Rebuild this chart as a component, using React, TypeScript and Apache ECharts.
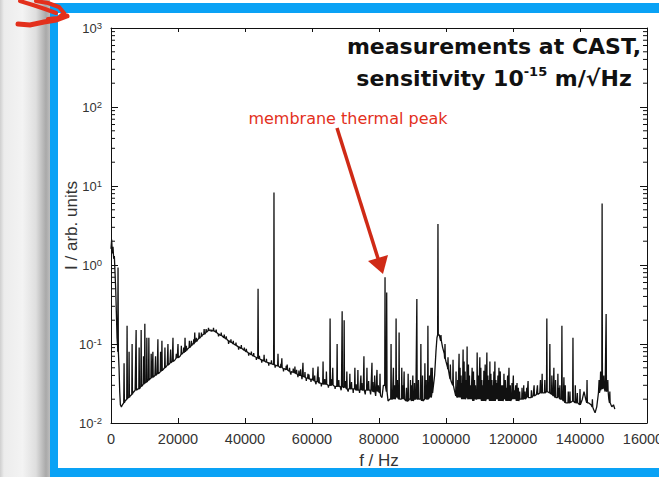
import React, { useEffect, useRef } from 'react';
import * as echarts from 'echarts';

// ---- data ----
const xMin = 0;
const xMax = 160000;
const xInterval = 20000;
const yMin = 0.01;
const yMax = 1000;

// smooth background of the spectrum [f (Hz), I]
const baseline: [number, number][] = [
  [0, 1.6], [200, 2.1], [400, 1.4], [600, 1.7], [800, 1.2], [1000, 1.3], [1200, 0.8], [1400, 0.5],
  [1600, 0.25], [1800, 0.12], [2000, 0.09], [2200, 0.075], [2400, 0.05], [2600, 0.025], [2800, 0.017],
  [3100, 0.016], [3400, 0.017], [4200, 0.019], [5000, 0.021], [5700, 0.022], [6500, 0.024], [7200, 0.026],
  [8000, 0.027], [8700, 0.028], [9400, 0.03], [10100, 0.032], [10900, 0.034], [11600, 0.036], [12300, 0.038],
  [13100, 0.04], [13800, 0.042], [14600, 0.044], [15300, 0.047], [16100, 0.05], [16800, 0.054], [17600, 0.057],
  [18300, 0.06], [19100, 0.063], [19800, 0.068], [20600, 0.07], [21300, 0.076], [22100, 0.08], [22800, 0.086],
  [23600, 0.09], [24300, 0.1], [25100, 0.105], [25800, 0.112], [26600, 0.12], [27300, 0.13], [28100, 0.135],
  [28800, 0.145], [29500, 0.15], [30200, 0.148], [31000, 0.145], [31700, 0.138], [32500, 0.13], [33200, 0.126],
  [34000, 0.12], [34700, 0.113], [35500, 0.107], [36200, 0.103], [37000, 0.098], [37700, 0.094], [38500, 0.09],
  [39200, 0.087], [40000, 0.082], [40700, 0.079], [41500, 0.075], [42200, 0.072], [43000, 0.069], [43900, 0.066],
  [44600, 0.064], [45300, 0.062], [46000, 0.06], [46700, 0.058], [47500, 0.057], [48600, 0.055], [49500, 0.053],
  [50300, 0.051], [51000, 0.05], [52000, 0.048], [53000, 0.046], [54000, 0.044], [55000, 0.043], [56400, 0.04],
  [57500, 0.039], [58500, 0.037], [59400, 0.036], [60500, 0.035], [61500, 0.033], [62400, 0.032], [63500, 0.031],
  [64500, 0.031], [65400, 0.03], [66500, 0.03], [67500, 0.029], [68400, 0.029], [69500, 0.028], [70500, 0.027],
  [71300, 0.027], [72300, 0.027], [73300, 0.026], [74300, 0.026], [75300, 0.026], [76300, 0.026], [77300, 0.026],
  [78500, 0.025], [79700, 0.025], [80500, 0.022], [80900, 0.021], [81300, 0.03], [82700, 0.019], [83200, 0.02],
  [84000, 0.02], [85000, 0.021], [86000, 0.02], [87000, 0.02], [88000, 0.019], [89000, 0.02], [90000, 0.019],
  [91000, 0.02], [92000, 0.02], [93000, 0.019], [94000, 0.02], [95000, 0.021], [96000, 0.024], [96600, 0.04],
  [97000, 0.08], [97300, 0.12], [98000, 0.13], [98500, 0.11], [99000, 0.09], [99500, 0.075], [100000, 0.06],
  [100500, 0.05], [101000, 0.04], [101500, 0.034], [102000, 0.03], [102500, 0.026], [103000, 0.022], [104000, 0.021],
  [105000, 0.02], [106000, 0.021], [107000, 0.02], [108000, 0.019], [109000, 0.02], [110000, 0.02], [111000, 0.019],
  [112000, 0.02], [113000, 0.019], [114000, 0.019], [115000, 0.02], [116000, 0.019], [117000, 0.02], [118000, 0.019],
  [119000, 0.02], [120000, 0.02], [121000, 0.019], [122000, 0.02], [123000, 0.02], [124000, 0.021], [125000, 0.021],
  [126000, 0.022], [127000, 0.023], [128000, 0.024], [129000, 0.024], [130000, 0.025], [131000, 0.024], [132000, 0.022],
  [133000, 0.021], [134000, 0.02], [135000, 0.019], [136000, 0.018], [137000, 0.018], [138000, 0.019], [139000, 0.018],
  [140000, 0.017], [140700, 0.02], [141200, 0.025], [141700, 0.02], [142500, 0.018], [143300, 0.017], [144000, 0.015],
  [144500, 0.0135], [145000, 0.016], [145500, 0.024], [146000, 0.026], [146300, 0.03], [147000, 0.028], [147500, 0.025],
  [148200, 0.026], [148600, 0.02], [149000, 0.018], [149500, 0.016], [150000, 0.017], [150400, 0.015],
];

// narrow resonance lines [f (Hz), base I, peak I]
const spikes: [number, number, number][] = [
  [2100, 0.08, 0.93], [3900, 0.018, 0.057], [4800, 0.02, 0.17], [5400, 0.021, 0.08], [6300, 0.023, 0.1],
  [7500, 0.026, 0.15], [8400, 0.027, 0.09], [9000, 0.029, 0.15], [9700, 0.031, 0.07], [10100, 0.032, 0.18],
  [10700, 0.033, 0.12], [11300, 0.035, 0.12], [12000, 0.037, 0.075], [12500, 0.038, 0.08], [13300, 0.04, 0.07],
  [14000, 0.042, 0.115], [14800, 0.045, 0.08], [15200, 0.046, 0.11], [16100, 0.05, 0.09], [17000, 0.054, 0.1],
  [17800, 0.058, 0.085], [18500, 0.06, 0.12], [20000, 0.067, 0.1], [21000, 0.074, 0.095], [22100, 0.08, 0.12],
  [23400, 0.09, 0.11], [25000, 0.105, 0.14], [26300, 0.118, 0.14], [27800, 0.133, 0.155], [30600, 0.146, 0.16],
  [33800, 0.12, 0.132], [36500, 0.1, 0.11], [39800, 0.083, 0.09], [43900, 0.066, 0.5], [45700, 0.061, 0.073],
  [48650, 0.055, 8.3], [49850, 0.053, 0.075], [51000, 0.05, 0.066], [52600, 0.047, 0.055], [54900, 0.043, 0.052],
  [56600, 0.04, 0.048], [57300, 0.039, 0.058], [58800, 0.037, 0.042], [60300, 0.035, 0.05], [61800, 0.033, 0.052],
  [63300, 0.031, 0.06], [64300, 0.031, 0.045], [65400, 0.03, 0.21], [66200, 0.03, 0.05], [67500, 0.029, 0.1],
  [69000, 0.029, 0.26], [69600, 0.028, 0.2], [70400, 0.027, 0.045], [71300, 0.027, 0.042], [72800, 0.027, 0.05],
  [73700, 0.026, 0.047], [74600, 0.026, 0.04], [75500, 0.026, 0.07], [76400, 0.026, 0.05], [77900, 0.026, 0.058],
  [78700, 0.025, 0.04], [79400, 0.025, 0.047], [80300, 0.024, 0.042], [81800, 0.03, 0.7], [82300, 0.025, 0.45],
  [83600, 0.02, 0.1], [84300, 0.02, 0.05], [85100, 0.021, 0.21], [86000, 0.02, 0.14], [86800, 0.02, 0.05],
  [87500, 0.02, 0.045], [88700, 0.019, 0.042], [89400, 0.02, 0.035], [90100, 0.019, 0.04], [91300, 0.02, 0.37],
  [92500, 0.02, 0.1], [93000, 0.019, 0.04], [93700, 0.02, 0.057], [94600, 0.02, 0.17], [95500, 0.021, 0.05],
  [97600, 0.13, 3.3], [98500, 0.11, 0.13], [99700, 0.065, 0.1], [100600, 0.048, 0.068], [101300, 0.036, 0.055],
  [102100, 0.03, 0.063], [103000, 0.022, 0.045], [103900, 0.021, 0.075], [104500, 0.021, 0.04], [105100, 0.02, 0.085],
  [105700, 0.02, 0.045], [106300, 0.021, 0.093], [107000, 0.02, 0.04], [107800, 0.02, 0.05], [108500, 0.02, 0.035],
  [109300, 0.02, 0.078], [110100, 0.02, 0.068], [110700, 0.019, 0.035], [111300, 0.019, 0.046], [112200, 0.02, 0.078],
  [112800, 0.02, 0.035], [113400, 0.019, 0.042], [114000, 0.019, 0.03], [114600, 0.019, 0.06], [115200, 0.02, 0.032],
  [115800, 0.019, 0.05], [116500, 0.019, 0.03], [117300, 0.02, 0.042], [118000, 0.019, 0.028], [118800, 0.019, 0.05],
  [119700, 0.02, 0.032], [120400, 0.02, 0.026], [121200, 0.019, 0.032], [122000, 0.02, 0.025], [122700, 0.02, 0.028],
  [123600, 0.02, 0.025], [124500, 0.021, 0.034], [125500, 0.021, 0.026], [127300, 0.023, 0.03], [128700, 0.024, 0.042],
  [129500, 0.024, 0.035], [130100, 0.025, 0.21], [131000, 0.024, 0.1], [131600, 0.023, 0.04], [132200, 0.022, 0.05],
  [133400, 0.021, 0.042], [134000, 0.02, 0.03], [134600, 0.02, 0.17], [135200, 0.019, 0.038], [136500, 0.018, 0.025],
  [137900, 0.019, 0.12], [138600, 0.018, 0.03], [140000, 0.017, 0.027], [142100, 0.018, 0.035], [145700, 0.024, 0.035],
  [146600, 0.027, 6.0], [147100, 0.028, 0.04], [147800, 0.025, 0.24], [148300, 0.025, 0.035],
];

// small wiggles of the noisy trace [f (Hz), base I, excursion I]
const wiggles: [number, number, number][] = [
  [19500, 0.066, 0.075], [21700, 0.078, 0.09], [22500, 0.083, 0.095], [24000, 0.095, 0.11], [24700, 0.1, 0.115],
  [25500, 0.108, 0.12], [27000, 0.125, 0.14], [28400, 0.14, 0.155], [29100, 0.148, 0.16], [29900, 0.15, 0.143],
  [31400, 0.14, 0.152], [32100, 0.134, 0.125], [32900, 0.128, 0.14], [34400, 0.116, 0.125], [35100, 0.11, 0.1],
  [35800, 0.105, 0.115], [37300, 0.096, 0.104], [38100, 0.092, 0.085], [38900, 0.088, 0.097], [40400, 0.08, 0.087],
  [41100, 0.077, 0.071], [41900, 0.073, 0.08], [42600, 0.07, 0.077], [43400, 0.068, 0.063], [44300, 0.065, 0.071],
  [45000, 0.063, 0.058], [46400, 0.059, 0.065], [47100, 0.058, 0.053], [47900, 0.056, 0.062], [49000, 0.054, 0.05],
  [50700, 0.05, 0.056], [51500, 0.049, 0.045], [52300, 0.047, 0.053], [53300, 0.045, 0.05], [53700, 0.045, 0.041],
  [54400, 0.044, 0.049], [55400, 0.042, 0.047], [55800, 0.041, 0.038], [56100, 0.04, 0.046], [57000, 0.039, 0.036],
  [57900, 0.038, 0.044], [58300, 0.037, 0.034], [59100, 0.036, 0.041], [59700, 0.036, 0.033], [60800, 0.034, 0.04],
  [61200, 0.034, 0.031], [62100, 0.032, 0.038], [62800, 0.032, 0.029], [63800, 0.031, 0.036], [64900, 0.03, 0.028],
  [65900, 0.03, 0.036], [66900, 0.029, 0.027], [68000, 0.029, 0.035], [68700, 0.029, 0.026], [70000, 0.028, 0.034],
  [70800, 0.027, 0.025], [71800, 0.027, 0.033], [72300, 0.027, 0.024], [73200, 0.026, 0.031], [74200, 0.026, 0.024],
  [74900, 0.026, 0.032], [75900, 0.026, 0.023], [76900, 0.026, 0.034], [77500, 0.026, 0.023], [78200, 0.025, 0.033],
  [79000, 0.025, 0.022], [79800, 0.025, 0.03], [84700, 0.02, 0.03], [85500, 0.021, 0.035], [87200, 0.02, 0.03],
  [88200, 0.019, 0.028], [89800, 0.019, 0.03], [90600, 0.02, 0.032], [91800, 0.02, 0.035], [92800, 0.019, 0.03],
  [94100, 0.02, 0.035], [95100, 0.021, 0.04], [95900, 0.024, 0.05], [103500, 0.021, 0.035], [104200, 0.021, 0.05],
  [104800, 0.02, 0.032], [105400, 0.02, 0.06], [106100, 0.021, 0.035], [106700, 0.02, 0.055], [107400, 0.02, 0.03],
  [108200, 0.019, 0.045], [108800, 0.02, 0.03], [109700, 0.02, 0.04], [110400, 0.02, 0.05], [111050, 0.019, 0.03],
  [111700, 0.019, 0.055], [112500, 0.02, 0.04], [113100, 0.019, 0.06], [113700, 0.019, 0.035], [114300, 0.019, 0.045],
  [114900, 0.02, 0.035], [115500, 0.02, 0.04], [116200, 0.019, 0.045], [116900, 0.019, 0.03], [117700, 0.02, 0.035],
  [118400, 0.019, 0.04], [119200, 0.019, 0.03], [120100, 0.02, 0.04], [120800, 0.02, 0.03], [121600, 0.019, 0.028],
  [123200, 0.02, 0.03], [124100, 0.021, 0.028], [126300, 0.022, 0.03], [128200, 0.024, 0.035], [132700, 0.021, 0.035],
  [133700, 0.021, 0.028], [135600, 0.018, 0.03], [137000, 0.018, 0.025], [139200, 0.018, 0.024], [143700, 0.016, 0.02],
  [146150, 0.026, 0.045], [148900, 0.018, 0.025],
];

// log-axis minor tick values
const minorTicks: number[] = [
  0.02, 0.03, 0.04, 0.05, 0.06, 0.07, 0.08, 0.09,
  0.2, 0.3, 0.4, 0.5, 0.6, 0.7, 0.8, 0.9,
  2, 3, 4, 5, 6, 7, 8, 9,
  20, 30, 40, 50, 60, 70, 80, 90,
  200, 300, 400, 500, 600, 700, 800, 900,
];

const titleLine1 = 'measurements at CAST,';
const titleLine2a = 'sensitivity 10';
const titleLine2sup = '-15';
const titleLine2b = ' m/√Hz';
const annotationText = 'membrane thermal peak';
const xName = 'f / Hz';
const yName = 'I / arb. units';

const BLUE = '#0aa2f5';
const RED = '#e3301c';

function buildTrace(): [number, number][] {
  const pts: [number, number][] = baseline.map((p) => [p[0], p[1]] as [number, number]);
  spikes.concat(wiggles).forEach(([f, b, p]) => {
    pts.push([f - 100, b]);
    pts.push([f, p]);
    pts.push([f + 100, b]);
  });
  pts.sort((a, b) => a[0] - b[0]);
  return pts;
}

export default function App() {
  const ref = useRef<HTMLDivElement>(null);
  useEffect(() => {
    if (!ref.current) return;
    const chart = echarts.init(ref.current, null, { renderer: 'svg' });
    const axisFont = 'Liberation Sans';
    const option: any = {
      animation: false,
      backgroundColor: '#ffffff',
      grid: { left: 111, right: 12, top: 28, bottom: 54, containLabel: false, outerBoundsMode: 'none' },
      xAxis: [
        {
          type: 'value', min: xMin, max: xMax, interval: xInterval, position: 'bottom',
          name: xName, nameLocation: 'middle', nameGap: 29, nameMoveOverlap: false,
          nameTextStyle: { fontFamily: axisFont, fontSize: 17, color: '#333' },
          axisLine: { show: true, onZero: false, lineStyle: { color: '#111', width: 1 } },
          axisTick: { show: true, inside: true, length: 5, lineStyle: { color: '#111' } },
          axisLabel: {
            fontFamily: axisFont, fontSize: 14.5, color: '#333', margin: 8, showMaxLabel: true,
            hideOverlap: false,
            formatter: (v: number) => String(v),
          },
          splitLine: { show: false },
        },
        {
          type: 'value', min: xMin, max: xMax, interval: xInterval, position: 'top',
          axisLine: { show: true, onZero: false, lineStyle: { color: '#111', width: 1 } },
          axisTick: { show: true, inside: true, length: 4, lineStyle: { color: '#111' } },
          axisLabel: { show: false },
          splitLine: { show: false },
        },
      ],
      yAxis: [
        {
          type: 'log', logBase: 10, min: yMin, max: yMax, interval: 1, position: 'left',
          name: yName, nameLocation: 'middle', nameGap: 31, nameRotate: 90, nameMoveOverlap: false,
          nameTextStyle: { fontFamily: axisFont, fontSize: 17, color: '#333' },
          axisLine: { show: true, onZero: false, lineStyle: { color: '#111', width: 1 } },
          axisTick: { show: true, inside: true, length: 7, lineStyle: { color: '#111' } },
          axisLabel: {
            margin: 9,
            formatter: (v: number) => {
              const e = Math.round(Math.log10(v));
              return '{b|10}{s|' + e + '}';
            },
            rich: {
              b: { fontFamily: axisFont, fontSize: 13, lineHeight: 16, color: '#333' },
              s: { fontFamily: axisFont, fontSize: 9.5, lineHeight: 9, color: '#333', verticalAlign: 'top' },
            },
          },
          splitLine: { show: false },
          minorTick: { show: false },
        },
        {
          type: 'log', logBase: 10, min: yMin, max: yMax, interval: 1, position: 'right',
          axisLine: { show: true, onZero: false, lineStyle: { color: '#111', width: 1 } },
          axisTick: { show: true, inside: true, length: 7, lineStyle: { color: '#111' } },
          axisLabel: { show: false },
          splitLine: { show: false },
        },
      ],
      series: [
        {
          type: 'line',
          xAxisIndex: 0, yAxisIndex: 0,
          data: buildTrace(),
          showSymbol: false,
          symbol: 'none',
          lineStyle: { color: '#111111', width: 1.3 },
          clip: true,
          z: 3,
        },
        {
          type: 'custom',
          xAxisIndex: 0, yAxisIndex: 0,
          silent: true,
          clip: false,
          encode: { x: 0, y: 1 },
          data: minorTicks.map((v) => [xMin, v]),
          renderItem: (params: any, api: any) => {
            const v = api.value(1);
            const pl = api.coord([xMin, v]);
            const pr = api.coord([xMax, v]);
            return {
              type: 'group',
              children: [
                { type: 'line', shape: { x1: pl[0], y1: pl[1], x2: pl[0] + 4, y2: pl[1] }, style: { stroke: '#111', lineWidth: 1 } },
                { type: 'line', shape: { x1: pr[0], y1: pr[1], x2: pr[0] - 4, y2: pr[1] }, style: { stroke: '#111', lineWidth: 1 } },
              ],
            };
          },
          z: 4,
        },
      ],
      graphic: [
        {
          type: 'rect', z: -10, silent: true,
          shape: { x: 0, y: 0, width: 50, height: 477 },
          style: {
            fill: new echarts.graphic.LinearGradient(0, 0, 1, 0, [
              { offset: 0, color: '#cfcfcf' },
              { offset: 0.08, color: '#ececec' },
              { offset: 0.45, color: '#f3f3f3' },
              { offset: 0.72, color: '#dedede' },
              { offset: 0.92, color: '#a9a9a9' },
              { offset: 1, color: '#bdbdbd' },
            ]),
          },
        },
        { type: 'rect', silent: true, shape: { x: 50, y: 3, width: 609, height: 10 }, style: { fill: BLUE } },
        { type: 'rect', silent: true, shape: { x: 50, y: 3, width: 8, height: 474 }, style: { fill: BLUE } },
        { type: 'rect', silent: true, shape: { x: 50, y: 468, width: 609, height: 9 }, style: { fill: BLUE } },
        // red scribble top-left
        { type: 'polyline', silent: true, shape: { points: [[18, 24], [30, 25], [44, 22], [56, 20], [67, 16]] }, style: { stroke: RED, lineWidth: 5, fill: 'none', lineCap: 'round' } },
        { type: 'polyline', silent: true, shape: { points: [[20, 1], [33, 5], [45, 9], [56, 13]] }, style: { stroke: RED, lineWidth: 4, fill: 'none', lineCap: 'round' } },
        { type: 'polyline', silent: true, shape: { points: [[36, 1], [48, 3], [59, 7], [64, 13], [58, 18], [48, 19]] }, style: { stroke: RED, lineWidth: 4, fill: 'none', lineCap: 'round' } },
        // title
        {
          type: 'text', silent: true, x: 494, y: 46,
          style: {
            text: titleLine1, fontFamily: 'DejaVu Sans', fontWeight: 'bold', fontSize: 22,
            fill: '#111', align: 'center', verticalAlign: 'middle',
          },
        },
        {
          type: 'text', silent: true, x: 494, y: 78,
          style: {
            text: '{a|' + titleLine2a + '}{s|' + titleLine2sup + '}{a|' + titleLine2b + '}',
            align: 'center', verticalAlign: 'middle',
            rich: {
              a: { fontFamily: 'DejaVu Sans', fontWeight: 'bold', fontSize: 22, lineHeight: 26, fill: '#111' },
              s: { fontFamily: 'DejaVu Sans', fontWeight: 'bold', fontSize: 13, lineHeight: 18, fill: '#111', verticalAlign: 'top' },
            },
          },
        },
        // annotation
        {
          type: 'text', silent: true, x: 348, y: 118,
          style: {
            text: annotationText, fontFamily: 'DejaVu Sans', fontSize: 16,
            fill: RED, align: 'center', verticalAlign: 'middle',
          },
        },
        { type: 'line', silent: true, shape: { x1: 337, y1: 128, x2: 378.5, y2: 260 }, style: { stroke: '#cf2a16', lineWidth: 3.5 } },
        { type: 'polygon', silent: true, shape: { points: [[383, 274], [368, 261], [388, 255]] }, style: { fill: '#cf2a16' } },
      ],
    };
    chart.setOption(option);
    return () => chart.dispose();
  }, []);
  return (
    <div
      ref={ref}
      style={{ position: 'fixed', left: 0, top: 0, width: 659, height: 477 }}
    />
  );
}
